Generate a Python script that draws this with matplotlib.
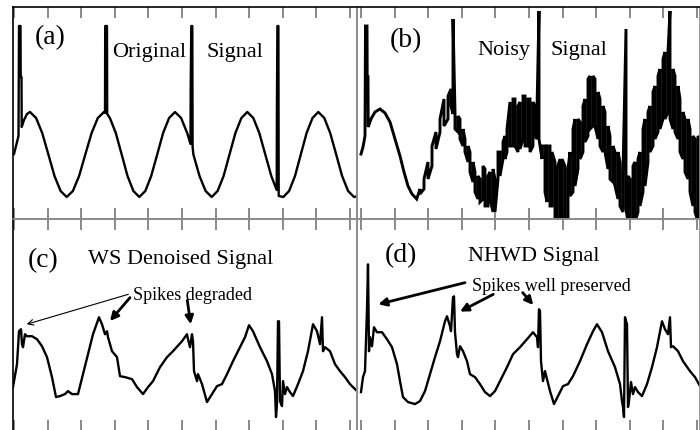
import numpy as np
import matplotlib
matplotlib.use("Agg")
import matplotlib.pyplot as plt

plt.rcParams['font.family'] = ['Liberation Serif', 'DejaVu Serif']

# ---------------- data (sample position, amplitude) ----------------
# (a) original signal
t_a = [0, 2, 4.5, 5, 6.5, 6.7, 7.5, 7.7, 10, 13, 16, 22.1, 28.2, 34.4, 40.5, 46.6, 52.7,
       58.9, 65.1, 71.3, 77.6, 83.8, 90, 91, 91.2, 93, 93.2, 95.9, 101.8, 107.7, 113.5,
       119.4, 125.3, 131.3, 137.2, 143.2, 149.1, 155.1, 161, 167.1, 173.2, 176.5, 176.7,
       177.3, 178.3, 178.6, 179.4, 185.5, 191.6, 197.7, 203.6, 209.6, 215.5, 221.4, 227.4,
       233.3, 239.3, 245.3, 251.3, 257.3, 262.7, 262.9, 263.4, 264.4, 264.7, 269.3, 275.1,
       281, 286.8, 292.6, 298.5, 304.3, 310.3, 316.2, 322.2, 328.1, 334.1, 340, 344]
y_a = [65, 73, 83, 193, 193, 142, 142, 92, 99, 105, 107, 101, 86, 64.5, 43, 28, 22,
       28, 43, 64.5, 86, 101, 107, 106, 193, 193, 105, 101, 86, 64.5, 43,
       28, 22, 28, 43, 64.5, 86, 101, 107, 101, 86, 75, 133,
       193, 193, 72, 64.5, 43, 28, 22, 28, 43, 64.5, 86, 101,
       107, 101, 86, 64.5, 43, 29, 108, 193, 193, 23, 22, 28,
       43, 64.5, 86, 101, 107, 101, 86, 64.5, 43, 28, 22, 23]

# (b) noisy signal: sample positions with low / high excursion
t_b = [0, 2, 4, 4.5, 6, 6.2, 7, 7.2, 10, 14, 19, 24, 29, 34, 39, 43, 47, 51, 55.7,
       59, 63, 67, 71, 75, 79, 83, 87, 90, 92, 94, 97, 99, 102, 104, 107, 109, 112, 114,
       117, 119, 122, 124, 127, 129, 132, 134, 137, 139, 142, 144, 146, 149, 152, 154,
       157, 159, 162, 164, 167, 169, 172, 174, 176, 178, 181, 184, 186, 189, 191, 194,
       196, 199, 201, 204, 207, 209, 212, 214, 217, 219, 222, 224, 227, 229, 232, 234,
       237, 239, 242, 244, 247, 249, 252, 254, 257, 259, 262, 265, 267, 269, 272, 274,
       277, 279, 282, 284, 287, 289, 292, 294, 297, 299, 302, 304, 307, 309, 312, 314,
       317, 319, 322, 324, 327, 329, 332, 334, 337, 339]
lo_b = [65, 72, 83, 193, 193, 142, 142, 92, 100, 107, 110, 106, 97, 80, 63, 47, 33, 25, 20,
        25, 30, 40, 53, 70, 87, 93, 100, 113, 105, 90, 87, 80, 73, 67, 57, 47, 37, 27,
        20, 17, 20, 13, 13, 20, 7, 7, 40, 43, 60, 60, 67, 73, 73, 73,
        67, 70, 80, 73, 73, 67, 73, 83, 80, 80, 60, 27, 17, 13, 13, -3,
        -3, -3, -3, -3, -3, 23, 27, 33, 50, 60, 67, 77, 83, 90, 93, 93,
        80, 73, 67, 67, 50, 40, 37, 33, 20, 13, 7, 10, -3, -3, -3, -3,
        7, 13, 27, 33, 57, 67, 73, 80, 87, 90, 100, 100, 107, 100, 90, 87,
        80, 67, 60, 47, 40, 27, 13, 7, -3, -3]
hi_b = [65, 72, 83, 193, 193, 142, 142, 92, 100, 107, 110, 106, 97, 80, 63, 47, 33, 25, 20,
        30, 40, 57, 73, 87, 100, 120, 123, 130, 200, 107, 103, 100, 90, 80, 73, 67, 57, 47,
        43, 40, 53, 50, 43, 47, 50, 40, 67, 67, 77, 83, 90, 117, 120, 120,
        113, 117, 123, 123, 120, 120, 117, 113, 110, 208, 73, 73, 73, 73, 67, 57,
        50, 60, 60, 53, 50, 67, 90, 100, 100, 97, 113, 120, 140, 143, 143, 140,
        127, 120, 113, 107, 93, 83, 73, 67, 67, 57, 47, 190, 43, 40, 53, 57,
        60, 67, 90, 100, 107, 113, 127, 133, 143, 150, 160, 167, 167, 208, 150, 143,
        133, 120, 107, 100, 100, 90, 83, 80, 83, 80]

# (c) WS denoised signal
t_c = [-1, 3, 5, 7, 8, 9, 11, 13, 18, 23, 28, 33, 38, 42, 46, 51, 54, 58, 64, 69,
       74, 79, 85, 88, 91, 93, 94, 98, 103, 106, 111, 118, 123, 129, 134, 139, 146, 153, 159, 168,
       173, 174, 176, 178, 179, 180, 183, 184, 188, 193, 198, 203, 208, 213, 219, 226, 231, 235, 239, 246,
       253, 258, 261, 262, 263, 264, 265, 266, 268, 269, 271, 273, 276, 279, 284, 289, 294, 299, 303, 306,
       308, 309, 311, 316, 321, 326, 331, 336, 343]
y_c = [44, 67, 100, 102, 87, 84, 97, 95, 95, 92, 85, 74, 54, 34, 35, 37, 40, 37, 37, 57,
       77, 97, 114, 107, 97, 100, 94, 80, 74, 55, 54, 52, 44, 37, 44, 50, 64, 74, 80, 90,
       97, 92, 84, 97, 90, 60, 50, 57, 47, 29, 37, 45, 47, 57, 70, 84, 94, 106, 100, 84,
       70, 57, 40, 14, 27, 110, 110, 30, 25, 50, 37, 44, 39, 35, 47, 60, 80, 107, 100, 87,
       114, 80, 84, 80, 67, 60, 54, 47, 40]

# (d) NHWD signal
t_d = [0, 2, 4, 6, 7, 8, 9, 11, 13, 16, 21, 26, 31, 36, 39, 42, 47, 54, 59, 64,
       69, 74, 79, 84, 86, 89, 90, 92, 93, 94, 96, 97, 99, 102, 106, 109, 114, 119, 124, 129,
       134, 139, 146, 152, 159, 166, 172, 176, 177, 178, 179, 180, 182, 184, 186, 189, 193, 197, 202, 207,
       212, 219, 226, 232, 236, 241, 247, 254, 259, 261, 262, 263, 264, 266, 267, 268, 270, 272, 274, 277,
       281, 286, 291, 296, 301, 304, 307, 309, 310, 312, 317, 322, 329, 334, 339]
y_d = [39, 54, 60, 122, 167, 80, 94, 85, 104, 99, 99, 92, 84, 67, 50, 34, 29, 27, 30, 40,
       57, 74, 90, 110, 115, 105, 100, 134, 135, 99, 77, 74, 85, 80, 70, 57, 54, 47, 39, 35,
       40, 50, 64, 77, 84, 92, 99, 94, 84, 122, 120, 70, 50, 60, 52, 40, 27, 35, 45, 47,
       55, 70, 87, 100, 107, 99, 80, 64, 47, 30, 24, 14, 114, 107, 24, 30, 49, 37, 44, 39,
       35, 47, 64, 84, 110, 102, 97, 114, 84, 85, 80, 70, 60, 54, 45]

tick_step = 33.6
n_ticks = 11

# ---------------- layout ----------------
W, H = 700, 431
fig = plt.figure(figsize=(W / 100, H / 100), dpi=100)


def rect(x0, x1, ytop, ybot):
    return [x0 / W, 1 - ybot / H, (x1 - x0) / W, (ybot - ytop) / H]


ax_a = fig.add_axes(rect(12.5, 357, 7.5, 220))
ax_b = fig.add_axes(rect(357, 700, 7.5, 220))
ax_c = fig.add_axes(rect(12.5, 357, 220, 432))
ax_d = fig.add_axes(rect(357, 700, 220, 432))

GRAY = '#8a8a8a'
for ax, left in [(ax_a, True), (ax_b, False), (ax_c, True), (ax_d, False)]:
    if left:
        ax.set_xlim(-1.5, 343)
    else:
        ax.set_xlim(-4, 339)
    ax.set_ylim(0, 212.5)
    ax.set_xticks(np.arange(n_ticks) * tick_step)
    ax.set_yticks([])
    ax.tick_params(axis='x', direction='in', top=True, bottom=True,
                   labelbottom=False, length=8, width=1.1, color='#6a6a6a')
    for s in ax.spines.values():
        s.set_linewidth(1.2)
        s.set_color(GRAY)
    ax.patch.set_alpha(0)

ax_a.spines['left'].set_color('black')
ax_c.spines['left'].set_color('black')
ax_a.spines['top'].set_color('black')
ax_b.spines['top'].set_color('black')

LW = 1.7
ax_a.plot(t_a, y_a, color='black', lw=LW)

# noisy signal drawn as a meander between low and high excursions
tb = np.asarray(t_b, float)
lo = np.asarray(lo_b, float)
hi = np.asarray(hi_b, float)
even = (np.arange(len(tb)) % 2 == 0)
first = np.where(even, lo, hi)
second = np.where(even, hi, lo)
xs = np.repeat(tb, 2)
ys = np.column_stack([first, second]).ravel()
ax_b.plot(xs, ys, color='black', lw=2.1, solid_joinstyle='miter')

ax_c.plot(t_c, y_c, color='black', lw=LW)
ax_d.plot(t_d, y_d, color='black', lw=LW)

# ---------------- texts ----------------
LBL = 20
TTL = 16
ANN = 13
ax_a.text(21, 176, '(a)', fontsize=LBL, ha='left', va='baseline')
ax_a.text(98, 163, 'Original', fontsize=TTL, ha='left', va='baseline')
ax_a.text(193, 163, 'Signal', fontsize=TTL, ha='left', va='baseline')

ax_b.text(29, 173, '(b)', fontsize=LBL, ha='left', va='baseline')
ax_b.text(116, 165, 'Noisy', fontsize=TTL, ha='left', va='baseline')
ax_b.text(189, 165, 'Signal', fontsize=TTL, ha='left', va='baseline')

ax_c.text(14, 165, '(c)', fontsize=LBL, ha='left', va='baseline')
ax_c.text(74, 168, 'WS Denoised Signal', fontsize=TTL, ha='left', va='baseline')
ax_c.text(119, 132, 'Spikes degraded', fontsize=ANN, ha='left', va='baseline')

ax_d.text(24, 170, '(d)', fontsize=LBL, ha='left', va='baseline')
ax_d.text(107, 171, 'NHWD Signal', fontsize=TTL, ha='left', va='baseline')
ax_d.text(111, 141, 'Spikes well preserved', fontsize=ANN, ha='left', va='baseline')

thick = dict(arrowstyle='-|>', lw=2.0, color='black', mutation_scale=12,
             shrinkA=0, shrinkB=0)
thin = dict(arrowstyle='->', lw=0.8, color='black', mutation_scale=10,
            shrinkA=0, shrinkB=0)
ax_c.annotate('', xy=(12.7, 107), xytext=(114.3, 137), arrowprops=thin)
ax_c.annotate('', xy=(96, 110.3), xytext=(116, 133.7), arrowprops=thick)
ax_c.annotate('', xy=(176.7, 107), xytext=(173.3, 131), arrowprops=thick)

ax_d.annotate('', xy=(17.3, 127), xytext=(104, 148.7), arrowprops=thick)
ax_d.annotate('', xy=(99, 119.7), xytext=(132.3, 137), arrowprops=thick)
ax_d.annotate('', xy=(172.3, 126.3), xytext=(161.7, 138.7), arrowprops=thick)

fig.savefig('out.png', dpi=100)
